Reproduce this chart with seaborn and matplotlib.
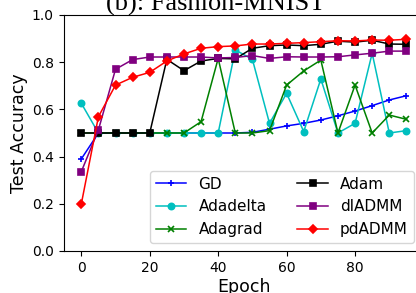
import matplotlib
matplotlib.use('Agg')
import matplotlib.pyplot as plt
import numpy as np
import pandas as pd
import seaborn as sb

epochs = [0, 5, 10, 15, 20, 25, 30, 35, 40, 45, 50, 55, 60, 65, 70, 75, 80, 85, 90, 95]

gd = [0.39, 0.50, 0.50, 0.50, 0.50, 0.50, 0.50, 0.50, 0.50, 0.50,
      0.503, 0.516, 0.53, 0.541, 0.555, 0.573, 0.593, 0.616, 0.64, 0.658]
adadelta = [0.626, 0.50, 0.50, 0.50, 0.50, 0.50, 0.50, 0.50, 0.50, 0.852,
            0.812, 0.541, 0.668, 0.506, 0.729, 0.50, 0.541, 0.838, 0.50, 0.51]
adagrad = [0.50, 0.50, 0.50, 0.50, 0.50, 0.50, 0.50, 0.548, 0.816, 0.50,
           0.50, 0.51, 0.703, 0.763, 0.809, 0.50, 0.703, 0.50, 0.576, 0.558]
adam = [0.50, 0.50, 0.50, 0.50, 0.50, 0.812, 0.764, 0.805, 0.816, 0.814,
        0.859, 0.870, 0.873, 0.870, 0.876, 0.889, 0.885, 0.893, 0.877, 0.876]
dladmm = [0.336, 0.513, 0.770, 0.811, 0.822, 0.822, 0.822, 0.822, 0.818, 0.82,
          0.828, 0.816, 0.823, 0.822, 0.822, 0.823, 0.831, 0.838, 0.847, 0.847]
pdadmm = [0.199, 0.569, 0.703, 0.736, 0.757, 0.805, 0.835, 0.859, 0.866, 0.869,
          0.877, 0.877, 0.88, 0.883, 0.887, 0.891, 0.89, 0.894, 0.893, 0.897]

series = [
    ('GD', gd, 'b', '+'),
    ('Adadelta', adadelta, 'c', 'o'),
    ('Adagrad', adagrad, 'g', 'x'),
    ('Adam', adam, 'k', 's'),
    ('dlADMM', dladmm, 'purple', 's'),
    ('pdADMM', pdadmm, 'r', 'D'),
]

fig = plt.figure(figsize=(4.16, 2.93), dpi=100)
ax = fig.add_axes([63.5 / 416, 1 - 251 / 293, 360 / 416, 236 / 293])

for name, vals, col, mk in series:
    sb.lineplot(x=epochs, y=vals, ax=ax, color=col, marker=mk, markersize=4.5,
                markeredgecolor=None, markeredgewidth=1.2, linewidth=1.1, label=name)

ax.set_xlim(-5.2, 100)
ax.set_ylim(0, 1.0)
ax.set_xticks([0, 20, 40, 60, 80])
ax.set_yticks([0.0, 0.2, 0.4, 0.6, 0.8, 1.0])
ax.tick_params(labelsize=10)
ax.set_xlabel('Epoch', fontsize=12.5, labelpad=2)
ax.set_ylabel('Test Accuracy', fontsize=12.5, labelpad=3)

ax.legend(ncol=2, fontsize=11, loc='lower right', borderaxespad=0,
          bbox_to_anchor=(414 / 416, 1 - 243 / 293), bbox_transform=fig.transFigure)

# title is partly cropped at the top, as in the reference
fig.text(216 / 416, 1 - 11 / 293, '(b): Fashion-MNIST', ha='center', va='baseline',
         fontsize=19, family='Liberation Serif')

fig.savefig('out.png', dpi=100)
